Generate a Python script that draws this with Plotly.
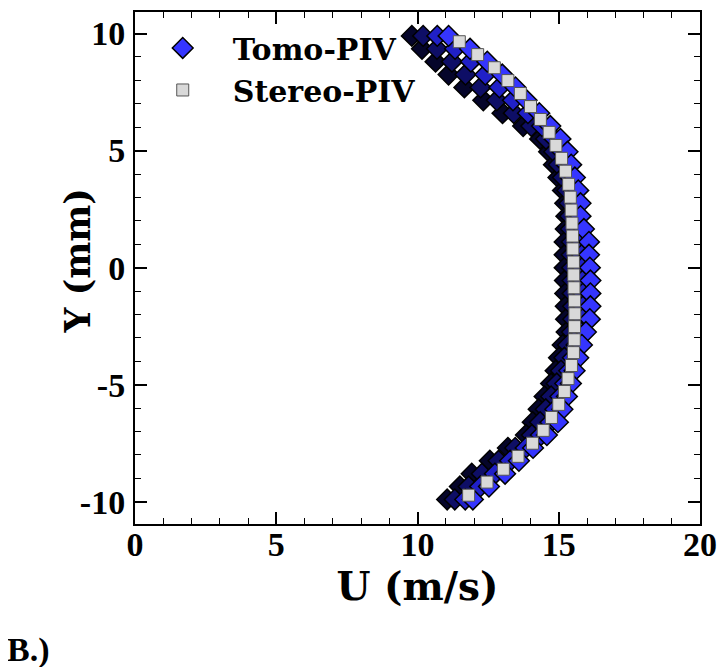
import plotly.graph_objects as go

# ---------------- data ----------------
stereo_y = [9.65, 9.10, 8.54, 7.99, 7.44, 6.88, 6.33, 5.78, 5.22, 4.67, 4.12, 3.56,
            3.01, 2.46, 1.90, 1.35, 0.80, 0.24, -0.31, -0.86, -1.42, -1.97, -2.52,
            -3.08, -3.63, -4.18, -4.74, -5.29, -5.84, -6.40, -6.95, -7.50, -8.06,
            -8.61, -9.16, -9.72]
stereo_u = [11.48, 12.13, 12.72, 13.20, 13.64, 14.00, 14.35, 14.66, 14.90, 15.10, 15.24,
            15.35, 15.41, 15.44, 15.47, 15.49, 15.50, 15.52, 15.53, 15.54, 15.56, 15.57,
            15.56, 15.55, 15.52, 15.45, 15.33, 15.20, 15.00, 14.74, 14.45, 14.07, 13.56,
            13.04, 12.46, 11.81]

tomo_y = [9.9, 9.35, 8.8, 8.25, 7.7, 7.15, 6.6, 6.05, 5.5, 4.95, 4.4, 3.85, 3.3, 2.75,
          2.2, 1.65, 1.1, 0.55, 0.0, -0.55, -1.1, -1.65, -2.2, -2.75, -3.3, -3.85, -4.4,
          -4.95, -5.5, -6.05, -6.6, -7.15, -7.7, -8.25, -8.8, -9.35, -9.9]
tomo_u1 = [9.80, 10.16, 10.64, 11.10, 11.66, 12.33, 13.01, 13.74, 14.34, 14.66, 14.83,
           14.99, 15.15, 15.23, 15.27, 15.25, 15.21, 15.21, 15.21, 15.22, 15.23, 15.25,
           15.26, 15.28, 15.14, 15.01, 14.89, 14.73, 14.50, 14.29, 14.08, 13.84, 13.20,
           12.56, 11.92, 11.50, 11.05]
tomo_u2 = [10.20, 10.69, 11.22, 11.70, 12.23, 12.81, 13.41, 14.03, 14.55, 14.84, 15.00,
           15.15, 15.30, 15.38, 15.40, 15.43, 15.46, 15.46, 15.47, 15.49, 15.49, 15.51,
           15.51, 15.47, 15.33, 15.20, 15.08, 14.93, 14.73, 14.54, 14.34, 14.05, 13.46,
           12.87, 12.28, 11.81, 11.32]
tomo_u3 = [10.70, 11.33, 11.89, 12.40, 12.90, 13.38, 13.91, 14.41, 14.85, 15.13, 15.27,
           15.41, 15.54, 15.62, 15.63, 15.71, 15.82, 15.82, 15.84, 15.85, 15.86, 15.86,
           15.85, 15.77, 15.63, 15.50, 15.37, 15.23, 15.06, 14.88, 14.71, 14.37, 13.83,
           13.28, 12.74, 12.22, 11.69]
tomo_u4 = [11.10, 11.86, 12.47, 13.00, 13.47, 13.86, 14.31, 14.70, 15.06, 15.31, 15.44,
           15.57, 15.69, 15.77, 15.77, 15.89, 16.07, 16.07, 16.10, 16.12, 16.12, 16.12,
           16.10, 15.96, 15.82, 15.69, 15.56, 15.43, 15.29, 15.13, 14.97, 14.58, 14.09,
           13.59, 13.10, 12.53, 11.96]
tomo_profiles = [tomo_u1, tomo_u2, tomo_u3, tomo_u4]
tomo_fills = ["#05052a", "#0e0e66", "#2020c8", "#3535ff"]

x_tickvals = [0, 5, 10, 15, 20]
x_ticktext = ["0", "5", "10", "15", "20"]
y_tickvals = [-10, -5, 0, 5, 10]
y_ticktext = ["-10", "-5", "0", "5", "10"]

# ---------------- figure ----------------
fig = go.Figure()

for i, (u, fc) in enumerate(zip(tomo_profiles, tomo_fills)):
    last = i == len(tomo_profiles) - 1
    fig.add_trace(go.Scatter(
        x=u, y=tomo_y, mode="markers", name="Tomo-PIV",
        legendgroup="tomo", showlegend=last, legendrank=1,
        marker=dict(symbol="diamond", size=16, color=fc,
                    line=dict(color="black", width=1.5)),
    ))

fig.add_trace(go.Scatter(
    x=stereo_u, y=stereo_y, mode="markers", name="Stereo-PIV", legendrank=2,
    marker=dict(symbol="square", size=12, color="#d9d9d9",
                line=dict(color="#555555", width=1)),
))

tick_font = dict(family="Liberation Serif", size=34, color="black", weight="bold")

fig.update_xaxes(
    range=[0, 20], tickvals=x_tickvals, ticktext=x_ticktext,
    ticks="inside", ticklen=12, tickwidth=2, tickcolor="black",
    minor=dict(dtick=1, ticks="inside", ticklen=6, tickwidth=1, tickcolor="black"),
    showline=True, linewidth=2, linecolor="black", mirror="ticks",
    showgrid=False, zeroline=False, tickfont=tick_font, ticklabelstandoff=-11,
    title=dict(text="U (m/s)", standoff=8,
               font=dict(family="DejaVu Serif", size=39, color="black", weight="bold")),
)
fig.update_yaxes(
    range=[-10.95, 10.92], tickvals=y_tickvals, ticktext=y_ticktext,
    ticks="inside", ticklen=12, tickwidth=2, tickcolor="black",
    minor=dict(dtick=1, ticks="inside", ticklen=6, tickwidth=1, tickcolor="black"),
    showline=True, linewidth=2, linecolor="black", mirror="ticks",
    showgrid=False, zeroline=False, tickfont=tick_font, ticklabelstandoff=1,
)

fig.add_annotation(
    text="Y (mm)", textangle=-90, xref="paper", yref="paper",
    x=-0.101, y=0.5145, xanchor="center", yanchor="middle", showarrow=False,
    font=dict(family="DejaVu Serif", size=35, color="black", weight="bold"),
)
fig.add_annotation(
    text="B.)", xref="paper", yref="paper", x=-0.2303, y=-0.247,
    xanchor="left", yanchor="middle", showarrow=False,
    font=dict(family="Liberation Serif", size=34, color="black", weight="bold"),
)

fig.update_layout(
    width=718, height=659,
    margin=dict(l=127, r=26, t=2, b=143),
    plot_bgcolor="white", paper_bgcolor="white",
    legend=dict(x=-0.004, y=0.9805, xanchor="left", yanchor="top",
                bgcolor="rgba(0,0,0,0)", itemwidth=90, tracegroupgap=0,
                font=dict(family="DejaVu Serif", size=30, color="black", weight="bold")),
)

fig.write_html("out.html")
